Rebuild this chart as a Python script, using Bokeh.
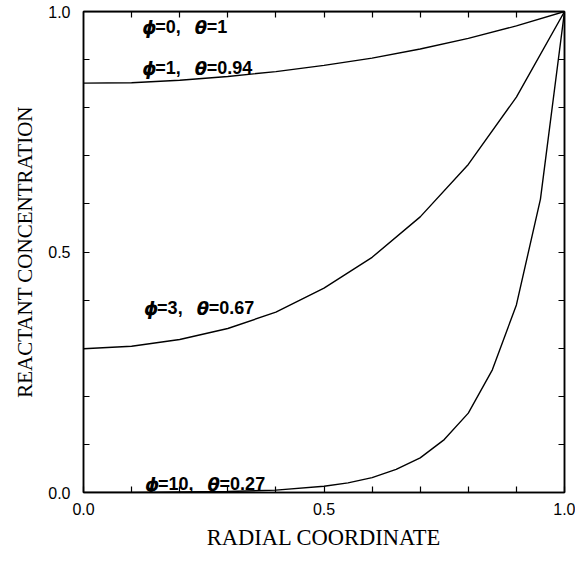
from bokeh.plotting import figure
from bokeh.models import LinearAxis, Range1d, FixedTicker, ColumnDataSource, PrintfTickFormatter
from bokeh.embed import file_html
from bokeh.resources import INLINE
from bokeh.core.properties import value

# ---- data ----
r_coarse = [0.0, 0.1, 0.2, 0.3, 0.4, 0.5, 0.6, 0.7, 0.8, 0.9, 1.0]
c_phi0 = [1.0, 1.0, 1.0, 1.0, 1.0, 1.0, 1.0, 1.0, 1.0, 1.0, 1.0]
c_phi1 = [0.851, 0.852, 0.857, 0.865, 0.875, 0.888, 0.903, 0.922, 0.944, 0.970, 1.0]
c_phi3 = [0.299, 0.304, 0.318, 0.341, 0.375, 0.425, 0.489, 0.573, 0.682, 0.822, 1.0]
r_fine = [0.0, 0.1, 0.2, 0.3, 0.4, 0.5, 0.55, 0.6, 0.65, 0.7, 0.75, 0.8, 0.85, 0.9, 0.95, 1.0]
c_phi10 = [0.0, 0.0, 0.001, 0.002, 0.005, 0.013, 0.02, 0.031, 0.048, 0.072, 0.11, 0.165, 0.255, 0.39, 0.61, 1.0]

phi_labels = ["0", "1", "3", "10"]
theta_labels = ["1", "0.94", "0.67", "0.27"]
label_x = [0.122, 0.122, 0.126, 0.128]
label_y = [0.967, 0.882, 0.383, 0.017]

major_ticks = [0.0, 0.5, 1.0]
minor_ticks = [0.1, 0.2, 0.3, 0.4, 0.6, 0.7, 0.8, 0.9]
all_inner_ticks = [0.1, 0.2, 0.3, 0.4, 0.5, 0.6, 0.7, 0.8, 0.9]

# ---- figure ----
p = figure(width=575, height=554, x_range=Range1d(0, 1), y_range=Range1d(0, 1),
           output_backend="svg", toolbar_location=None,
           x_axis_label="RADIAL COORDINATE", y_axis_label="REACTANT CONCENTRATION",
           min_border_left=83, min_border_right=11, min_border_top=11, min_border_bottom=62)
p.grid.visible = False
p.outline_line_color = "black"
p.outline_line_width = 1.5
p.background_fill_color = "white"
p.border_fill_color = "white"


def style_axis(ax, ticker):
    ax.ticker = ticker
    ax.axis_line_color = "black"
    ax.axis_line_width = 1.5
    ax.major_tick_in = 6
    ax.major_tick_out = 0
    ax.minor_tick_in = 6
    ax.minor_tick_out = 0
    ax.major_tick_line_color = "black"
    ax.minor_tick_line_color = "black"
    ax.major_tick_line_width = 1.2
    ax.minor_tick_line_width = 1.2
    ax.major_label_text_font = "Liberation Sans"
    ax.major_label_text_font_size = "16px"
    ax.major_label_text_color = "black"
    ax.axis_label_text_font = "Liberation Serif"
    ax.axis_label_text_font_style = "normal"
    ax.axis_label_text_color = "black"


labelled = FixedTicker(ticks=major_ticks, minor_ticks=minor_ticks)
unlabelled = FixedTicker(ticks=[], minor_ticks=all_inner_ticks)

style_axis(p.xaxis[0], labelled)
style_axis(p.yaxis[0], labelled)
p.xaxis[0].formatter = PrintfTickFormatter(format="%.1f")
p.yaxis[0].formatter = PrintfTickFormatter(format="%.1f")
p.xaxis[0].major_label_standoff = 10
p.xaxis[0].axis_label_standoff = 7
p.xaxis[0].axis_label_text_font_size = "22.5px"
p.yaxis[0].major_label_standoff = 13
p.yaxis[0].axis_label_standoff = 8
p.yaxis[0].axis_label_text_font_size = "21px"

top = LinearAxis()
right = LinearAxis()
style_axis(top, unlabelled)
style_axis(right, unlabelled)
p.add_layout(top, "above")
p.add_layout(right, "right")

# ---- curves ----
for xs, ys in [(r_coarse, c_phi0), (r_coarse, c_phi1), (r_coarse, c_phi3), (r_fine, c_phi10)]:
    p.line(xs, ys, line_color="black", line_width=1.4)

# ---- labels: phi / theta italic, rest upright ----
fs = 18
w = {"0": 0.556, "1": 0.556, "2": 0.556, "3": 0.556, "4": 0.556, "5": 0.556, "6": 0.556,
     "7": 0.556, "8": 0.556, "9": 0.556, "=": 0.584, ",": 0.278, ".": 0.278, " ": 0.278}

it_x, it_y, it_t, it_o = [], [], [], []
up_x, up_y, up_t, up_o = [], [], [], []
for ph, th, lx, ly in zip(phi_labels, theta_labels, label_x, label_y):
    s1 = "=" + ph + ","
    s2 = "=" + th
    off1 = 13
    off_th = off1 + sum(w[c] for c in s1) * fs + 14
    off2 = off_th + 12
    it_x += [lx, lx]; it_y += [ly, ly]; it_t += ["\u03d5", "\u03b8"]; it_o += [0, off_th]
    up_x += [lx, lx]; up_y += [ly, ly]; up_t += [s1, s2]; up_o += [off1, off2]

src_it = ColumnDataSource(dict(x=it_x, y=it_y, text=it_t, xo=it_o))
src_up = ColumnDataSource(dict(x=up_x, y=up_y, text=up_t, xo=up_o))
p.text(x="x", y="y", text="text", x_offset="xo", source=src_it,
       text_font=value("DejaVu Sans"), text_font_style="bold italic",
       text_font_size=f"{fs}px", text_baseline="alphabetic", text_align="left", text_color="black")
p.text(x="x", y="y", text="text", x_offset="xo", source=src_up,
       text_font=value("Liberation Sans"), text_font_style="bold",
       text_font_size=f"{fs}px", text_baseline="alphabetic", text_align="left", text_color="black")

open("out.html", "w").write(file_html(p, INLINE))
